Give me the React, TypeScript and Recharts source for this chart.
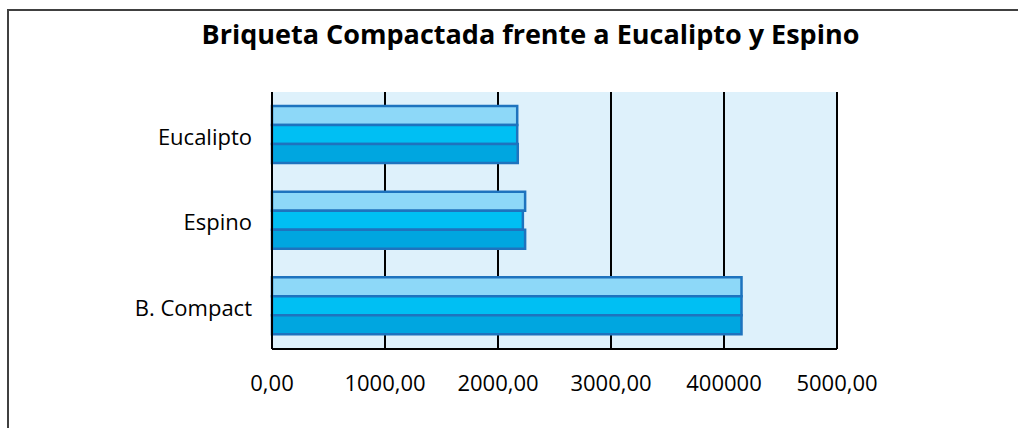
import React from 'react';
import { BarChart, Bar, XAxis, YAxis, CartesianGrid } from 'recharts';

const categories = ['Eucalipto', 'Espino', 'B. Compact'];
const serieA = [2170, 2240, 4155];
const serieB = [2170, 2220, 4155];
const serieC = [2175, 2240, 4155];
const xTicks = [0, 1000, 2000, 3000, 4000, 5000];
const xTickLabels = ['0,00', '1000,00', '2000,00', '3000,00', '400000', '5000,00'];
const title = 'Briqueta Compactada frente a Eucalipto y Espino';

const data = categories.map((name, i) => ({ name, a: serieA[i], b: serieB[i], c: serieC[i] }));

const FONT = '"Open Sans", "Liberation Sans", sans-serif';

const XTick = (props: any) => {
  const { x, y, payload } = props;
  const idx = xTicks.indexOf(payload.value);
  return (
    <text x={x} y={y} dy="0.71em" textAnchor="middle" fill="#000" fontSize={22} fontFamily={FONT}>
      {idx >= 0 ? xTickLabels[idx] : payload.value}
    </text>
  );
};

const YTick = (props: any) => {
  const { x, y, payload } = props;
  return (
    <text x={x} y={y} dy="0.45em" textAnchor="end" fill="#000" fontSize={22} fontFamily={FONT}>
      {payload.value}
    </text>
  );
};

export default function App() {
  return (
    <div style={{ position: 'absolute', left: 0, top: 0, width: 1018, height: 428, background: '#fff', overflow: 'hidden' }}>
      <div
        style={{
          position: 'absolute',
          left: 7,
          top: 9,
          width: 1100,
          height: 500,
          border: '2px solid #404040',
          boxSizing: 'border-box',
        }}
      />
      <div
        style={{
          position: 'absolute',
          left: 0,
          top: 17,
          width: 1061,
          textAlign: 'center',
          fontFamily: FONT,
          fontWeight: 700,
          fontSize: 27,
          color: '#000',
          lineHeight: '34px',
          whiteSpace: 'nowrap',
        }}
      >
        {title}
      </div>
      <div style={{ position: 'absolute', left: 0, top: 0 }}>
        <BarChart
          width={1018}
          height={428}
          data={data}
          layout="vertical"
          margin={{ top: 92, right: 181, bottom: 29, left: 0 }}
          barCategoryGap={14}
          barGap={0}
        >
          <CartesianGrid horizontal={false} vertical={true} stroke="#000" strokeWidth={2} fill="#DEF1FB" />
          <XAxis
            type="number"
            domain={[0, 5000]}
            ticks={xTicks}
            height={50}
            tickLine={false}
            tickSize={0}
            tickMargin={26}
            axisLine={{ stroke: '#000', strokeWidth: 2 }}
            tick={<XTick />}
            interval={0}
          />
          <YAxis
            type="category"
            dataKey="name"
            width={272}
            tickLine={false}
            tickSize={0}
            tickMargin={20}
            axisLine={{ stroke: '#000', strokeWidth: 2 }}
            tick={<YTick />}
          />
          <Bar dataKey="a" fill="#8DD8F8" stroke="#1E73BE" strokeWidth={2.5} isAnimationActive={false} />
          <Bar dataKey="b" fill="#00BFF3" stroke="#1E73BE" strokeWidth={2.5} isAnimationActive={false} />
          <Bar dataKey="c" fill="#00A6E0" stroke="#1E73BE" strokeWidth={2.5} isAnimationActive={false} />
        </BarChart>
      </div>
    </div>
  );
}
